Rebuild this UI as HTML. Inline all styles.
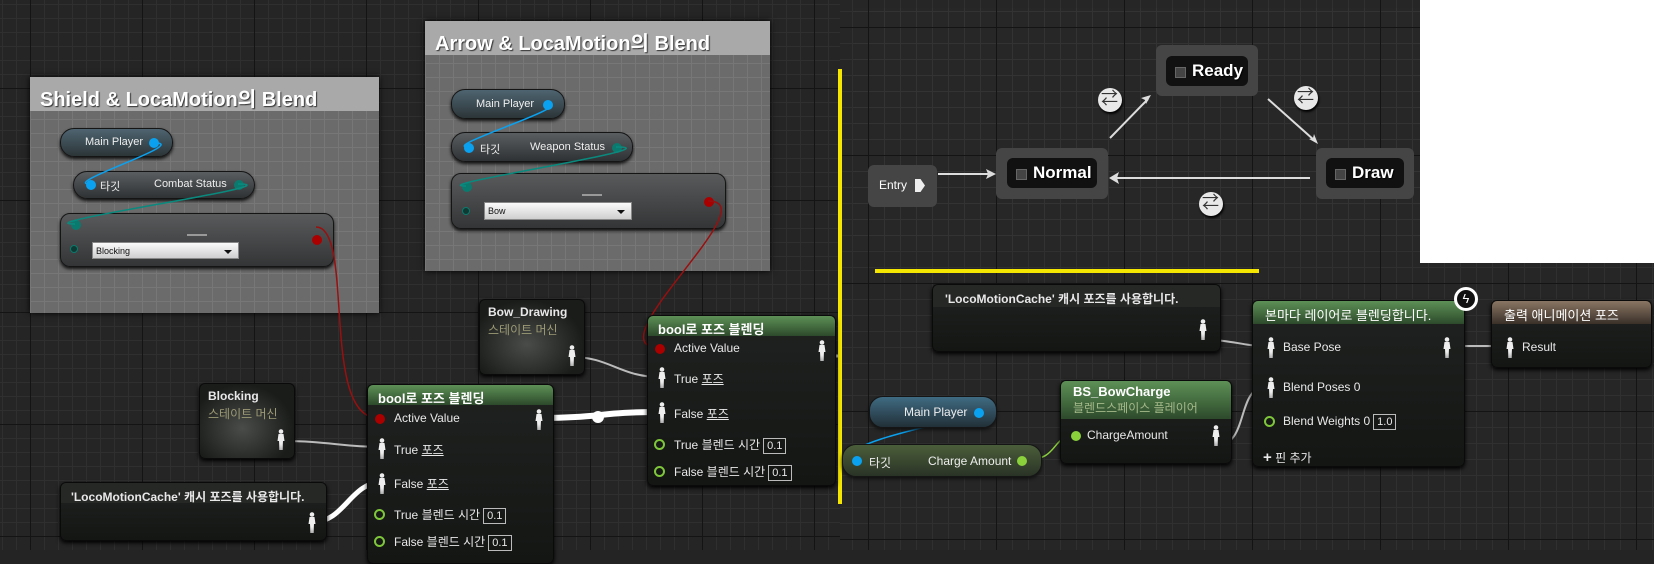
<!DOCTYPE html>
<html><head><meta charset="utf-8"><style>
*{margin:0;padding:0;box-sizing:border-box}
body{width:1654px;height:550px;overflow:hidden;background:#242424;position:relative;font-family:"Liberation Sans","Noto Sans CJK KR",sans-serif;color:#ddd}
.abs{position:absolute}
.gridL{left:0;top:0;width:840px;height:550px;
background-color:#252525;
background-image:linear-gradient(90deg,#141414 1px,transparent 1px),linear-gradient(#141414 1px,transparent 1px),linear-gradient(90deg,#2f2f2f 1px,transparent 1px),linear-gradient(#2f2f2f 1px,transparent 1px);
background-size:112px 112px,112px 112px,14px 14px,14px 14px;background-position:30px 88px,30px 88px,30px 88px,30px 88px}
.gridR{left:840px;top:0;width:814px;height:550px;
background-color:#262626;
background-image:linear-gradient(90deg,#141414 1px,transparent 1px),linear-gradient(#141414 1px,transparent 1px),linear-gradient(90deg,#303030 1px,transparent 1px),linear-gradient(#303030 1px,transparent 1px);
background-size:128px 128px,128px 128px,16px 16px,16px 16px;background-position:28px 27px,28px 27px,28px 27px,28px 27px}
.cbox{background-color:#6b6b6b;background-image:linear-gradient(90deg,#777 1px,transparent 1px),linear-gradient(#777 1px,transparent 1px);background-size:14px 14px;box-shadow:0 0 6px #000}
.chead{background:#a9a9a9;color:#fff;font-weight:bold;font-size:20px;padding:6px 10px;text-shadow:1px 1px 1px #333;height:34px;white-space:nowrap}
.pill{border-radius:14px;background:linear-gradient(#5a5e60,#2f3234);border:1px solid #151515;box-shadow:0 2px 3px #111;font-size:11px;color:#eee}
.enum{border-radius:10px;background:linear-gradient(#585a5b,#333536);border:1px solid #151515;box-shadow:0 2px 3px #111}
.dd{background:linear-gradient(#fafafa,#cfcfcf);color:#111;font-size:9px;padding:3px 3px;border:1px solid #888}
.dd:after{content:"";position:absolute;right:6px;top:7px;border:4px solid transparent;border-top:4px solid #111}
.node{border-radius:6px;background:linear-gradient(#1f2220,#141614);border:1px solid #0a0a0a;box-shadow:0 2px 4px #000;font-size:12px;color:#e8e8e8}
.hg{background:linear-gradient(#5d9056,#2d4a2b);border-radius:5px 5px 0 0;font-weight:bold;font-size:13px;color:#fff;padding:3px 10px;height:20px}
.row{position:absolute;left:26px;white-space:nowrap}
.pin{position:absolute;width:10px;height:10px;border-radius:50%}
.ring{position:absolute;width:11px;height:11px;border-radius:50%;border:2px solid #7ec63a}
.box{display:inline-block;border:1px solid #bbb;padding:0 3px;font-size:11px;margin-left:3px;line-height:14px}
.st{position:absolute;background:#454545;border-radius:6px}
.sti{position:absolute;background:#111;border-radius:6px;color:#fff;font-weight:bold;font-size:17px;text-shadow:1px 1px 1px #000;padding-left:26px;line-height:30px}
.sti:before{content:"";position:absolute;left:9px;top:11px;width:9px;height:9px;background:#444;border:1px solid #666}
.tri{position:absolute;width:24px;height:24px;border-radius:50%;background:#e8e8e8;box-shadow:1px 2px 2px #000}
.tri:before{content:"⇄";position:absolute;left:3px;top:0;font-size:17px;color:#333;line-height:22px}
.yel{background:#f4e600}
</style></head><body>
<div class="abs gridL"></div>
<div class="abs gridR"></div>
<div class="abs" style="left:853px;top:8px;width:570px;height:242px;background-color:#272727;background-image:linear-gradient(90deg,#141414 1px,transparent 1px),linear-gradient(#141414 1px,transparent 1px),linear-gradient(90deg,#333 1px,transparent 1px),linear-gradient(#333 1px,transparent 1px);background-size:128px 128px,128px 128px,16px 16px,16px 16px;background-position:15px 19px,15px 19px,15px 19px,15px 19px"></div>
<div class="abs" style="left:1420px;top:0;width:234px;height:263px;background:#fff"></div>

<!-- comment boxes -->
<div class="abs cbox" style="left:30px;top:77px;width:349px;height:236px"><div class="chead">Shield &amp; LocaMotion의 Blend</div></div>
<div class="abs cbox" style="left:425px;top:21px;width:345px;height:250px"><div class="chead">Arrow &amp; LocaMotion의 Blend</div></div>

<div class="abs pill" style="left:60px;top:128px;width:113px;height:29px;background:linear-gradient(#4e6470,#2c3538)"><span class="abs" style="left:24px;top:7px">Main Player</span><div class="pin" style="left:88px;top:9px;background:#0aa2f0"></div></div>
<div class="abs pill" style="left:73px;top:171px;width:182px;height:28px"><div class="pin" style="left:12px;top:8px;background:#0aa2f0"></div><span class="abs" style="left:26px;top:6px">타깃</span><span class="abs" style="left:80px;top:6px">Combat Status</span><div class="pin" style="left:160px;top:8px;background:#0a7a6e"></div></div>
<div class="abs enum" style="left:60px;top:213px;width:274px;height:54px"><div class="pin" style="left:10px;top:6px;background:#0a7a6e"></div><div class="pin" style="left:9px;top:31px;width:8px;height:8px;background:#0f3a34;border:1px solid #0a7a6e"></div><div class="abs" style="left:126px;top:20px;width:20px;height:3px;border-top:2px solid #999"></div><div class="abs dd" style="left:31px;top:28px;width:147px;height:17px">Blocking</div><div class="pin" style="left:251px;top:21px;background:#a00;"></div></div>

<div class="abs pill" style="left:451px;top:89px;width:114px;height:30px;background:linear-gradient(#4e6470,#2c3538)"><span class="abs" style="left:24px;top:8px">Main Player</span><div class="pin" style="left:91px;top:10px;background:#0aa2f0"></div></div>
<div class="abs pill" style="left:451px;top:132px;width:182px;height:30px"><div class="pin" style="left:12px;top:10px;background:#0aa2f0"></div><span class="abs" style="left:28px;top:8px">타깃</span><span class="abs" style="left:78px;top:8px">Weapon Status</span><div class="pin" style="left:160px;top:10px;background:#0a7a6e"></div></div>
<div class="abs enum" style="left:451px;top:173px;width:275px;height:56px"><div class="pin" style="left:10px;top:8px;background:#0a7a6e"></div><div class="pin" style="left:10px;top:33px;width:8px;height:8px;background:#0f3a34;border:1px solid #0a7a6e"></div><div class="abs" style="left:130px;top:20px;width:20px;border-top:2px solid #999"></div><div class="abs dd" style="left:32px;top:28px;width:148px;height:18px">Bow</div><div class="pin" style="left:252px;top:23px;background:#a00"></div></div>

<svg class="abs" style="left:0;top:0" width="1654" height="550">
<defs><g id="p"><circle cx="4" cy="2.5" r="2.3" fill="#eee"/><path d="M1.5 5h5l1 7h-1.5l-0.5 9h-1.2l-0.3-6-0.3 6h-1.2l-0.5-9h-1.5z" fill="#eee"/></g></defs>
<g fill="none">
<path d="M155 143 C190 143,60 184,90 184" stroke="#0aa2f0" stroke-width="1.5"/>
<path d="M238 184 C300 184,20 224,75 224" stroke="#0a8a7e" stroke-width="1.5"/>
<path d="M316 227 C355 227,320 418,378 418" stroke="#9a0f0f" stroke-width="1.5"/>
<path d="M546 104 C580 104,440 147,468 147" stroke="#0aa2f0" stroke-width="1.5"/>
<path d="M616 147 C680 147,420 186,466 186" stroke="#0a8a7e" stroke-width="1.5"/>
<path d="M708 201 C770 201,590 348,660 348" stroke="#9a0f0f" stroke-width="1.5"/>
<path d="M572 357 C610 357,620 377,660 377" stroke="#bbb" stroke-width="2"/>
<path d="M281 441 C330 441,340 447,383 447" stroke="#bbb" stroke-width="2"/>
<path d="M313 522 C345 522,350 482,383 482" stroke="#fff" stroke-width="5"/>
<path d="M539 418 C600 418,600 412,660 412" stroke="#fff" stroke-width="6"/>
<circle cx="598" cy="417" r="6" fill="#fff"/>
<path d="M822 356 L840 356" stroke="#bbb" stroke-width="3"/>
<path d="M1205 340 C1235 340,1240 346,1268 346" stroke="#bbb" stroke-width="2"/>
<path d="M1217 445 C1250 445,1235 386,1268 386" stroke="#bbb" stroke-width="2"/>
<path d="M1449 346 L1505 346" stroke="#bbb" stroke-width="2"/>
<path d="M1026 460 C1060 460,1050 435,1077 435" stroke="#8ad13c" stroke-width="1.5"/>
<path d="M975 412 C1010 412,830 440,853 460" stroke="#0aa2f0" stroke-width="1.5"/>
<g stroke="#ddd" stroke-width="2">
<path d="M938 174 L990 174"/><path d="M1310 178 L1116 178"/><path d="M1110 138 L1148 99"/><path d="M1268 99 L1314 140"/>
</g>
<g fill="#ddd"><path d="M996 174 l-10 -5 2 5 -2 5z"/><path d="M1109 178 l10 -6 -2 6 2 6z"/><path d="M1151 95 l-10 3 4 2 1 4z"/><path d="M1318 144 l-4 -10 -1 4 -4 1z"/></g>
</g>
</svg>

<!-- state machine -->
<div class="st" style="left:868px;top:165px;width:69px;height:42px"><span class="abs" style="left:11px;top:13px;font-size:12px;color:#fff">Entry</span><div class="abs" style="left:47px;top:14px;width:10px;height:13px;background:#eee;clip-path:polygon(0 0,55% 0,100% 50%,55% 100%,0 100%)"></div></div>
<div class="st" style="left:996px;top:148px;width:112px;height:51px"><div class="sti" style="left:11px;top:10px;width:90px;height:30px">Normal</div></div>
<div class="st" style="left:1156px;top:45px;width:102px;height:51px"><div class="sti" style="left:10px;top:11px;width:82px;height:30px">Ready</div></div>
<div class="st" style="left:1316px;top:148px;width:98px;height:51px"><div class="sti" style="left:10px;top:10px;width:78px;height:30px">Draw</div></div>
<div class="tri" style="left:1098px;top:88px"></div>
<div class="tri" style="left:1294px;top:86px"></div>
<div class="tri" style="left:1199px;top:192px"></div>

<div class="abs yel" style="left:838px;top:69px;width:4px;height:435px"></div>
<div class="abs yel" style="left:875px;top:269px;width:384px;height:4px"></div>

<!-- left graph nodes -->
<div class="abs node" style="left:479px;top:299px;width:106px;height:76px;background:radial-gradient(ellipse at 45% 60%,#4a4c4a,#1a1c1a 70%)"><div style="padding:5px 8px;font-weight:bold;font-size:12px">Bow_Drawing</div><div style="position:absolute;left:8px;top:21px;color:#9c9a74;font-size:12px">스테이트 머신</div><svg class="abs" style="left:88px;top:45px" width="10" height="22"><use href="#p"/></svg></div>
<div class="abs node" style="left:199px;top:383px;width:96px;height:76px;background:radial-gradient(ellipse at 45% 60%,#4a4c4a,#1a1c1a 70%)"><div style="padding:5px 8px;font-weight:bold;font-size:12px">Blocking</div><div style="position:absolute;left:8px;top:21px;color:#9c9a74;font-size:12px">스테이트 머신</div><svg class="abs" style="left:77px;top:45px" width="10" height="22"><use href="#p"/></svg></div>
<div class="abs node" style="left:60px;top:482px;width:267px;height:59px"><div style="background:#262826;border-radius:5px 5px 0 0;padding:5px 10px;height:20px;font-weight:bold;font-size:12px">'LocoMotionCache' 캐시 포즈를 사용합니다.</div><svg class="abs" style="left:247px;top:29px" width="10" height="22"><use href="#p"/></svg></div>

<div class="abs node" style="left:367px;top:384px;width:187px;height:180px"><div class="hg">bool로 포즈 블렌딩</div>
<div class="pin" style="left:7px;top:29px;background:#a00"></div><div class="row" style="top:26px">Active Value</div>
<svg class="abs" style="left:167px;top:24px" width="10" height="22"><use href="#p"/></svg>
<svg class="abs" style="left:10px;top:53px" width="10" height="22"><use href="#p"/></svg><div class="row" style="top:56px">True <u>포즈</u></div>
<svg class="abs" style="left:10px;top:88px" width="10" height="22"><use href="#p"/></svg><div class="row" style="top:90px">False <u>포즈</u></div>
<div class="ring" style="left:6px;top:124px"></div><div class="row" style="top:121px">True 블렌드 시간<span class="box">0.1</span></div>
<div class="ring" style="left:6px;top:151px"></div><div class="row" style="top:148px">False 블렌드 시간<span class="box">0.1</span></div>
</div>
<div class="abs node" style="left:647px;top:315px;width:189px;height:171px"><div class="hg">bool로 포즈 블렌딩</div>
<div class="pin" style="left:7px;top:28px;background:#a00"></div><div class="row" style="top:25px">Active Value</div>
<svg class="abs" style="left:170px;top:24px" width="10" height="22"><use href="#p"/></svg>
<svg class="abs" style="left:10px;top:51px" width="10" height="22"><use href="#p"/></svg><div class="row" style="top:54px">True <u>포즈</u></div>
<svg class="abs" style="left:10px;top:86px" width="10" height="22"><use href="#p"/></svg><div class="row" style="top:89px">False <u>포즈</u></div>
<div class="ring" style="left:6px;top:123px"></div><div class="row" style="top:120px">True 블렌드 시간<span class="box">0.1</span></div>
<div class="ring" style="left:6px;top:150px"></div><div class="row" style="top:147px">False 블렌드 시간<span class="box">0.1</span></div>
</div>

<!-- right graph nodes -->
<div class="abs node" style="left:932px;top:284px;width:289px;height:68px"><div style="background:#262826;border-radius:5px 5px 0 0;padding:5px 12px;height:22px;font-weight:bold;font-size:12px">'LocoMotionCache' 캐시 포즈를 사용합니다.</div><svg class="abs" style="left:266px;top:34px" width="10" height="22"><use href="#p"/></svg></div>
<div class="abs pill" style="left:869px;top:396px;width:128px;height:32px;background:linear-gradient(#3f6b82,#223038)"><span class="abs" style="left:34px;top:8px;font-size:12px">Main Player</span><div class="pin" style="left:104px;top:11px;background:#0aa2f0"></div></div>
<div class="abs pill" style="left:842px;top:444px;width:200px;height:33px;background:linear-gradient(#4b5e3a,#2a3326)"><div class="pin" style="left:9px;top:11px;background:#0aa2f0"></div><span class="abs" style="left:26px;top:9px;font-size:12px">타깃</span><span class="abs" style="left:85px;top:9px;font-size:12px">Charge Amount</span><div class="pin" style="left:174px;top:11px;background:#8ad13c"></div></div>
<div class="abs node" style="left:1060px;top:380px;width:172px;height:84px"><div style="background:linear-gradient(#5d9056,#2d4a2b);border-radius:5px 5px 0 0;padding:3px 12px;height:38px"><div style="font-weight:bold;font-size:13px;color:#fff">BS_BowCharge</div><div style="color:#a5b98a;font-size:12px">블렌드스페이스 플레이어</div></div>
<div class="pin" style="left:10px;top:50px;background:#8ad13c"></div><div class="row" style="top:47px">ChargeAmount</div><svg class="abs" style="left:151px;top:44px" width="10" height="22"><use href="#p"/></svg></div>
<div class="abs node" style="left:1252px;top:300px;width:213px;height:167px"><div class="hg" style="height:23px;font-weight:normal;font-size:13px;padding:4px 12px">본마다 레이어로 블렌딩합니다.</div>
<svg class="abs" style="left:14px;top:36px" width="10" height="22"><use href="#p"/></svg><div class="row" style="top:39px;left:30px">Base Pose</div><svg class="abs" style="left:190px;top:36px" width="10" height="22"><use href="#p"/></svg>
<svg class="abs" style="left:14px;top:76px" width="10" height="22"><use href="#p"/></svg><div class="row" style="top:79px;left:30px">Blend Poses 0</div>
<div class="ring" style="left:11px;top:115px"></div><div class="row" style="top:113px;left:30px">Blend Weights 0<span class="box">1.0</span></div>
<div class="row" style="top:148px;left:10px"><b style="font-size:15px">+</b> 핀 추가</div></div>
<div class="abs" style="left:1454px;top:287px;width:24px;height:24px;border-radius:50%;border:3px solid #fff;background:#111;color:#fff;font-size:13px;text-align:center;line-height:18px">ϟ</div>
<div class="abs node" style="left:1491px;top:300px;width:161px;height:68px"><div style="background:linear-gradient(#8a7563,#3a3029);border-radius:5px 5px 0 0;padding:4px 12px;height:23px;font-size:13px;color:#fff">출력 애니메이션 포즈</div><svg class="abs" style="left:14px;top:36px" width="10" height="22"><use href="#p"/></svg><div class="row" style="top:39px;left:30px">Result</div></div>
</body></html>
